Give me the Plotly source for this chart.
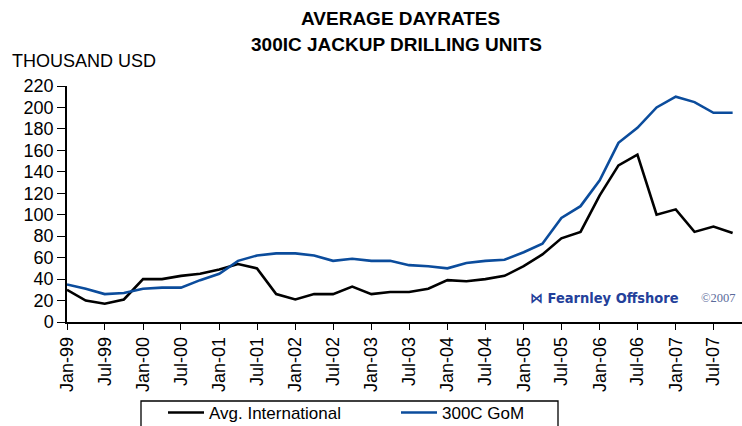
import plotly.graph_objects as go

quarters = [
    "1999-01-01", "1999-04-01", "1999-07-01", "1999-10-01",
    "2000-01-01", "2000-04-01", "2000-07-01", "2000-10-01",
    "2001-01-01", "2001-04-01", "2001-07-01", "2001-10-01",
    "2002-01-01", "2002-04-01", "2002-07-01", "2002-10-01",
    "2003-01-01", "2003-04-01", "2003-07-01", "2003-10-01",
    "2004-01-01", "2004-04-01", "2004-07-01", "2004-10-01",
    "2005-01-01", "2005-04-01", "2005-07-01", "2005-10-01",
    "2006-01-01", "2006-04-01", "2006-07-01", "2006-10-01",
    "2007-01-01", "2007-04-01", "2007-07-01", "2007-10-01",
]
avg_international = [
    30, 20, 17, 21, 40, 40, 43, 45, 49, 54, 50, 26,
    21, 26, 26, 33, 26, 28, 28, 31, 39, 38, 40, 43,
    52, 63, 78, 84, 118, 146, 156, 100, 105, 84, 89, 83,
]
gom_300c = [
    35, 31, 26, 27, 31, 32, 32, 39, 45, 57, 62, 64,
    64, 62, 57, 59, 57, 57, 53, 52, 50, 55, 57, 58,
    65, 73, 97, 108, 132, 167, 181, 200, 210, 205, 195, 195,
]
tick_dates = [
    "1999-01-01", "1999-07-01", "2000-01-01", "2000-07-01", "2001-01-01",
    "2001-07-01", "2002-01-01", "2002-07-01", "2003-01-01", "2003-07-01",
    "2004-01-01", "2004-07-01", "2005-01-01", "2005-07-01", "2006-01-01",
    "2006-07-01", "2007-01-01", "2007-07-01",
]
tick_labels = [
    "Jan-99", "Jul-99", "Jan-00", "Jul-00", "Jan-01", "Jul-01", "Jan-02",
    "Jul-02", "Jan-03", "Jul-03", "Jan-04", "Jul-04", "Jan-05", "Jul-05",
    "Jan-06", "Jul-06", "Jan-07", "Jul-07",
]
y_ticks = [0, 20, 40, 60, 80, 100, 120, 140, 160, 180, 200, 220]

FONT = "Liberation Sans, Arial, Helvetica, sans-serif"
BLUE = "#0b4c9c"
x_range = ["1999-01-01", "2007-11-15"]
y_range = [0, 220]

# pixel helpers for layout decorations (plot area: x 67..742, y 86..322)
def px_x(p):
    return (p - 67) / 675

def px_y(p):
    return (322 - p) / 236

fig = go.Figure()
fig.add_trace(go.Scatter(x=quarters, y=avg_international, mode="lines",
                         name="Avg. International",
                         line=dict(color="black", width=2.6)))
fig.add_trace(go.Scatter(x=quarters, y=gom_300c, mode="lines",
                         name="300C GoM",
                         line=dict(color=BLUE, width=2.6)))

fig.update_layout(
    width=742, height=426,
    margin=dict(l=67, r=0, t=86, b=104, autoexpand=False),
    paper_bgcolor="white", plot_bgcolor="white",
    font=dict(family=FONT, size=16, color="black"),
    showlegend=True,
    legend=dict(orientation="h", x=px_x(163), y=px_y(395), xanchor="left", yanchor="top",
                borderwidth=0, bgcolor="rgba(0,0,0,0)",
                entrywidth=182, entrywidthmode="pixels",
                font=dict(family=FONT, size=17), itemwidth=36,
                tracegroupgap=0),
    xaxis=dict(type="date", range=x_range, tickvals=tick_dates, ticktext=tick_labels,
               tickangle=-90, ticks="outside", ticklen=6, tickwidth=1.3, tickcolor="black",
               showline=True, linecolor="black", linewidth=1.5, showgrid=False,
               zeroline=False, tickfont=dict(family=FONT, size=18)),
    xaxis2=dict(type="date", range=x_range, overlaying="x", tickvals=tick_dates,
                ticks="inside", ticklen=6, tickwidth=1.3, tickcolor="black",
                showticklabels=False, showgrid=False, zeroline=False, showline=False,
                side="bottom"),
    yaxis=dict(range=y_range, tickvals=y_ticks, ticks="outside", ticklen=8,
               tickwidth=1.3, tickcolor="black", showline=True, linecolor="black",
               linewidth=1.5, showgrid=False, zeroline=False,
               tickfont=dict(family=FONT, size=18)),
    yaxis2=dict(range=y_range, overlaying="y", tickvals=y_ticks, ticks="inside",
                ticklen=8, tickwidth=1.3, tickcolor="black", showticklabels=False,
                showgrid=False, zeroline=False, showline=False, side="left"),
)

# legend frame (extends past the bottom edge, as in the original)
fig.add_shape(type="rect", xref="paper", yref="paper",
              x0=px_x(141), x1=px_x(558), y0=px_y(401), y1=px_y(440),
              line=dict(color="black", width=1.3), fillcolor="rgba(0,0,0,0)", layer="above")

fig.add_annotation(text="<b>AVERAGE DAYRATES</b>", xref="paper", yref="paper",
                   x=px_x(400), y=px_y(18), showarrow=False,
                   font=dict(family=FONT, size=19), xanchor="center", yanchor="middle")
fig.add_annotation(text="<b>300IC JACKUP DRILLING UNITS</b>", xref="paper", yref="paper",
                   x=px_x(396), y=px_y(44), showarrow=False,
                   font=dict(family=FONT, size=19), xanchor="center", yanchor="middle")
fig.add_annotation(text="THOUSAND USD", xref="paper", yref="paper",
                   x=px_x(10), y=px_y(61), showarrow=False,
                   font=dict(family=FONT, size=18), xanchor="left", yanchor="middle")
fig.add_annotation(text="<b>⋈ Fearnley Offshore</b>", xref="paper", yref="paper",
                   x=px_x(528), y=px_y(298), showarrow=False,
                   font=dict(family="DejaVu Sans Condensed, DejaVu Sans, sans-serif",
                             size=14.5, color="#23409a"),
                   xanchor="left", yanchor="middle")
fig.add_annotation(text="©2007", xref="paper", yref="paper",
                   x=px_x(699), y=px_y(298), showarrow=False,
                   font=dict(family="Liberation Serif, serif", size=12.5, color="#5a6a9a"),
                   xanchor="left", yanchor="middle")

fig.write_html("out.html")
